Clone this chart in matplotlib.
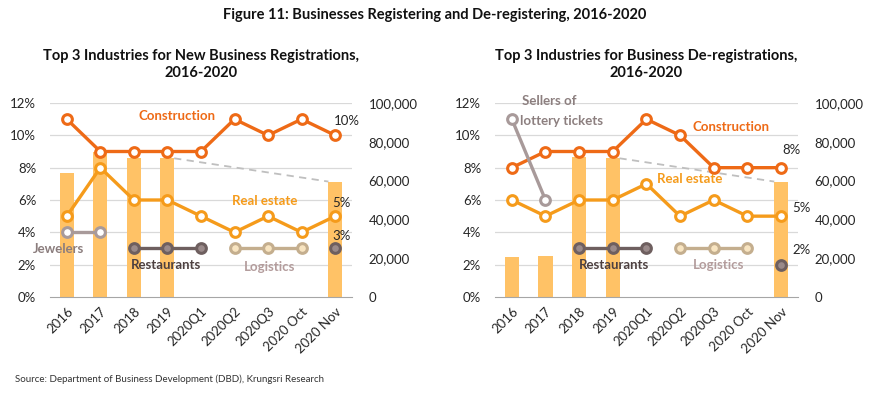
import matplotlib
matplotlib.use("Agg")
import matplotlib.pyplot as plt
import numpy as np

plt.rcParams['font.family'] = ['Lato', 'DejaVu Sans']

categories = ["2016", "2017", "2018", "2019", "2020Q1", "2020Q2", "2020Q3", "2020 Oct", "2020 Nov"]

# Left: new registrations
reg_counts = [64000, 75000, 71500, 71500, None, None, None, None, 59500]
reg_construction = [11, 9, 9, 9, 9, 11, 10, 11, 10]
reg_realestate = [5, 8, 6, 6, 5, 4, 5, 4, 5]
reg_jewelers = [4, 4, None, None, None, None, None, None, None]
reg_restaurants = [None, None, 3, 3, 3, None, None, None, None]
reg_logistics = [None, None, None, None, None, 3, 3, 3, None]
reg_nov_third = 3

# Right: de-registrations
dereg_counts = [20800, 21300, 72300, 71500, None, None, None, None, 59500]
dereg_construction = [8, 9, 9, 9, 11, 10, 8, 8, 8]
dereg_realestate = [6, 5, 6, 6, 7, 5, 6, 5, 5]
dereg_lottery = [11, 6, None, None, None, None, None, None, None]
dereg_restaurants = [None, None, 3, 3, 3, None, None, None, None]
dereg_logistics = [None, None, None, None, None, 3, 3, 3, None]
dereg_nov_third = 2

C_CON = "#EE6A16"
C_RE = "#F59B1B"
C_BAR = "#FFC266"
C_GRAY = "#A89A9A"
C_REST = "#6E5F5F"
C_REST_F = "#9A8A8A"
C_LOG = "#C4AE8E"
C_LOG_F = "#F8E4C0"

fig = plt.figure(figsize=(8.7, 3.93), dpi=100)

def arr(v):
    return np.array([np.nan if x is None else x for x in v], dtype=float)

def draw(rect, counts, con, re, first, first_color, rest, logi, nov3, title):
    ax2 = fig.add_axes(rect)
    ax = ax2.twinx()
    x = np.arange(len(categories))
    c = arr(counts)
    mask = ~np.isnan(c)
    ax2.set_zorder(1)
    ax.bar(x[mask], c[mask], width=0.42, color=C_BAR, zorder=1)
    ax.set_ylim(0, 100000)
    ax.set_yticks(np.arange(0, 100001, 20000))
    ax.set_yticklabels(["0", "20,000", "40,000", "60,000", "80,000", "100,000"])
    ax.plot([3.2, 7.8], [c[3], c[8]], ls=(0, (4, 3)), color="#BFBFBF", lw=1.3, zorder=2)
    ax.tick_params(axis='y', length=0, labelsize=9.5, pad=12, colors="#262626")
    for s in ax.spines.values():
        s.set_visible(False)

    ax2.patch.set_visible(False)
    ax2.set_xlim(-0.5, len(categories) - 0.5)
    ax2.set_ylim(0, 12)
    ax2.set_yticks(np.arange(0, 13, 2))
    ax2.set_yticklabels([f"{v}%" for v in range(0, 13, 2)])
    ax2.tick_params(axis='y', length=0, labelsize=9.5, pad=10, colors="#262626")
    for s in ["top", "right", "left"]:
        ax2.spines[s].set_visible(False)
    ax2.spines["bottom"].set_color("#A6A6A6")
    ax2.set_xticks(x)
    ax2.set_xticklabels(categories, rotation=45, ha="right", rotation_mode="anchor")
    ax2.tick_params(axis='x', length=0, labelsize=9.5, pad=6, colors="#262626")
    for v in range(2, 13, 2):
        ax.axhline(v / 12 * 100000, color="#D9D9D9", lw=0.9, zorder=0)

    mk = dict(marker="o", markersize=7, markeredgewidth=2.2, lw=2.4)
    ax2.plot(x, arr(con), color=C_CON, markerfacecolor="white", markeredgecolor=C_CON, **mk)
    ax2.plot(x, arr(re), color=C_RE, markerfacecolor="white", markeredgecolor=C_RE, **mk)
    ax2.plot(x, arr(first), color=first_color, markerfacecolor="white", markeredgecolor=first_color, **mk)
    ax2.plot(x, arr(rest), color=C_REST, markerfacecolor=C_REST_F, markeredgecolor=C_REST, **mk)
    ax2.plot(x, arr(logi), color=C_LOG, markerfacecolor=C_LOG_F, markeredgecolor=C_LOG, **mk)
    ax2.plot([8], [nov3], ls="none", color=C_REST, markerfacecolor=C_REST_F, markeredgecolor=C_REST,
             marker="o", markersize=7, markeredgewidth=2.2)

    cx = rect[0] + rect[2] / 2
    fig.text(cx, 0.836, title, ha="center", va="center", fontsize=10.5, fontweight="bold",
             color="#111111", linespacing=1.25)
    return ax2

axL = draw([0.0575, 0.2443, 0.347, 0.4936], reg_counts, reg_construction, reg_realestate,
           reg_jewelers, C_GRAY, reg_restaurants, reg_logistics, reg_nov_third,
           "Top 3 Industries for New Business Registrations,\n2016-2020")
axR = draw([0.569, 0.2443, 0.348, 0.4936], dereg_counts, dereg_construction, dereg_realestate,
           dereg_lottery, C_GRAY, dereg_restaurants, dereg_logistics, dereg_nov_third,
           "Top 3 Industries for Business De-registrations,\n2016-2020")

lab = dict(fontsize=9.5, fontweight="bold", ha="center", va="center")
axL.text(3.3, 11.2, "Construction", color=C_CON, **lab)
axL.text(5.9, 5.95, "Real estate", color=C_RE, **lab)
axL.text(-0.25, 2.95, "Jewelers", color="#8B7D7D", **lab)
axL.text(2.95, 1.97, "Restaurants", color="#4D4040", **lab)
axL.text(6.05, 1.85, "Logistics", color="#B39C9C", **lab)
vl = dict(fontsize=9.5, ha="center", va="center", color="#262626")
axL.text(8.35, 10.9, "10%", **vl)
axL.text(8.2, 5.8, "5%", **vl)
axL.text(8.2, 3.75, "3%", **vl)

axR.text(0.3, 12.1, "Sellers of", color="#8C7F7F", fontsize=9.5, fontweight="bold", ha="left", va="center")
axR.text(0.25, 10.9, "lottery tickets", color="#8C7F7F", fontsize=9.5, fontweight="bold", ha="left", va="center")
axR.text(6.5, 10.5, "Construction", color=C_CON, **lab)
axR.text(5.3, 7.3, "Real estate", color=C_RE, **lab)
axR.text(3.05, 2.0, "Restaurants", color="#4D4040", **lab)
axR.text(6.15, 2.0, "Logistics", color="#B39C9C", **lab)
axR.text(8.3, 9.1, "8%", **vl)
axR.text(8.6, 5.5, "5%", **vl)
axR.text(8.6, 2.9, "2%", **vl)

fig.text(0.5, 0.962, "Figure 11: Businesses Registering and De-registering, 2016-2020", ha="center",
         va="center", fontsize=10.5, fontweight="bold", color="#111111")
fig.text(0.017, 0.035, "Source: Department of Business Development (DBD), Krungsri Research", ha="left",
         va="center", fontsize=7, color="#333333")

fig.savefig("out.png", dpi=100)
